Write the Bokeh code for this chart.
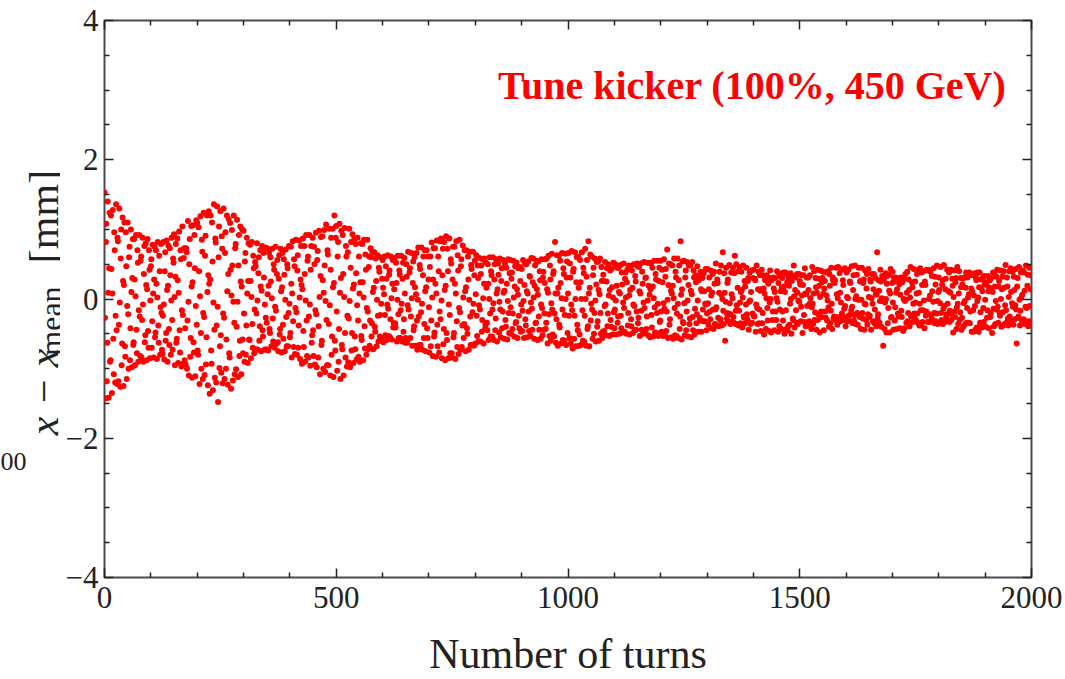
import math
from bokeh.plotting import figure
from bokeh.layouts import row
from bokeh.models import ColumnDataSource, Range1d, LinearAxis, FixedTicker, Label
from bokeh.embed import file_html
from bokeh.resources import INLINE

# x - x_mean per turn, in units of 0.01 mm (turns 0-249, 250-499, ...)
dev_t0000 = [153,-27,-143,82,108,-118,-63,140,9,-142,44,124,-90,-88,120,43,-135,8,128,-57,-108,96,70,-120,-24,
             136,-45,-122,88,83,-118,-37,130,-5,-126,58,100,-95,-64,117,26,-125,20,110,-68,-83,96,47,-115,-10,
             110,-22,-100,60,75,-88,-42,100,10,-98,30,86,-66,-62,86,28,-95,4,92,-44,-78,70,52,-90,-16,
             92,-25,-82,55,61,-84,-30,88,-8,-90,36,76,-62,-52,80,20,-88,14,86,-46,-70,70,42,-85,-2,
             47,57,-70,-32,78,8,-84,28,75,-55,-48,70,22,-86,2,82,-38,-63,62,40,-80,-12,79,-20,-73,
             -79,-24,82,-8,-87,40,67,-60,-49,84,13,-90,19,77,-43,-66,73,34,-80,-2,88,-30,-73,58,52,
             93,3,-95,32,79,-63,-57,87,27,-92,9,97,-45,-77,70,57,-97,-16,104,-23,-93,59,73,-88,-42,
             -94,73,67,-100,-31,112,-4,-110,50,86,-83,-56,105,18,-113,24,106,-62,-77,92,44,-111,-10,113,-37,
             109,-74,-80,103,40,-122,4,119,-49,-100,85,68,-115,-20,124,-26,-109,62,91,-94,-55,120,10,-124,34,
             126,22,-136,28,120,-74,-93,110,54,-131,-5,136,-44,-113,87,81,-120,-38,133,-11,-148,60,104,-99,-68]
dev_t0250 = [126,-52,-106,90,72,-121,-21,130,-27,-115,66,96,-100,-58,120,11,-123,36,115,-78,-84,109,42,-129,5,
             99,48,-117,-4,120,-34,-108,73,79,-101,-40,114,-4,-112,48,92,-82,-60,104,25,-108,18,100,-58,-78,
             98,-21,-90,54,66,-80,-38,88,8,-92,26,80,-58,-59,78,26,-85,3,82,-36,-70,62,44,-78,-15,
             53,47,-72,-21,80,-2,-73,37,60,-60,-39,70,18,-75,12,76,-45,-54,66,31,-73,-8,74,-27,-72,
             -34,73,7,-74,19,66,-43,-49,60,25,-68,1,72,-28,-61,50,42,-70,-11,75,-17,-64,36,56,-62,
             -75,29,63,-51,-43,72,11,-77,17,66,-37,-57,57,35,-75,-1,71,-26,-68,50,44,-68,-20,76,-7,
             -55,-49,75,22,-84,8,83,-32,-69,57,47,-79,-13,85,-19,-80,41,63,-70,-38,84,2,-86,28,76,
             20,-93,14,87,-46,-69,76,36,-90,-2,92,-31,-82,55,61,-84,-25,92,-8,-96,42,76,-63,-52,88,
             -45,-82,75,50,-94,-16,95,-22,-98,56,69,-84,-39,98,3,-108,33,89,-66,-60,90,27,-100,9,99,
             48,-105,-3,107,-30,-95,70,64,-95,-36,101,-9,-110,42,88,-80,-54,101,17,-112,23,120,-60,-74,88]
dev_t0500 = [105,-18,-103,61,82,-90,-43,108,9,-115,30,98,-66,-72,92,36,-110,3,102,-49,-84,76,61,-97,-24,
             67,-91,-28,101,-3,-98,45,82,-74,-49,93,15,-92,21,86,-54,-72,79,37,-87,-9,88,-31,-83,61,
             8,-90,24,80,-53,-59,79,24,-88,2,85,-39,-71,64,42,-80,-13,85,-18,-72,46,61,-67,-31,73,
             60,-54,-35,68,10,-72,16,67,-40,-47,58,26,-68,-1,63,-24,-61,45,39,-54,-23,60,-7,-57,29,
             56,16,-62,7,61,-23,-52,47,29,-59,-8,63,-14,-53,35,41,-55,-29,61,1,-58,22,56,-41,-35,
             14,59,-35,-41,52,23,-61,-1,62,-22,-56,41,35,-56,-16,62,-7,-61,29,52,-47,-29,59,8,-63,
             -56,50,32,-63,-9,68,-15,-57,38,44,-56,-25,66,1,-67,23,54,-45,-39,60,17,-67,7,66,-31,
             -73,-1,74,-25,-66,49,43,-66,-19,74,-7,-73,34,61,-56,-36,70,11,-75,17,70,-42,-56,61,28,
             -12,-77,46,61,-68,-31,81,2,-82,28,73,-54,-48,73,22,-83,8,84,-37,-68,61,40,-77,-18,83,
             -29,87,-2,-85,34,72,-65,-43,82,13,-88,19,90,-49,-59,72,40,-85,-8,87,-23,-78,57,51,-78]
dev_t0750 = [-84,28,75,-55,-49,75,22,-86,8,83,-32,-69,63,41,-79,-13,85,-19,-73,47,57,-69,-38,77,2,
             -56,-36,70,11,-75,17,70,-42,-50,61,28,-73,-1,68,-25,-66,49,43,-66,-19,68,-7,-67,34,55,
             -64,7,63,-24,-53,48,30,-61,-9,59,-15,-61,36,48,-47,-30,57,1,-64,22,58,-43,-37,52,16,
             -34,-45,50,22,-59,0,60,-21,-54,40,34,-54,-15,60,-6,-59,28,50,-45,-28,57,8,-61,14,51,
             35,-48,-4,58,-15,-55,26,44,-42,-18,56,9,-57,12,51,-30,-40,45,22,-58,-3,57,-20,-49,37,
             56,-12,-50,29,38,-43,-21,55,2,-54,18,47,-35,-33,52,14,-56,6,44,-24,-42,46,26,-47,-8,
             43,-46,-17,56,-3,-56,20,51,-29,-38,50,11,-55,8,54,-18,-46,33,32,-53,-5,59,-14,-44,24,
             58,2,-57,19,48,-35,-34,55,14,-59,6,54,-25,-44,40,27,-57,-8,57,-13,-52,31,39,-44,-21,
             23,57,-43,-34,58,14,-64,9,62,-22,-53,48,28,-60,-6,65,-15,-51,36,40,-54,-21,82,8,-63,
             -29,63,8,-67,16,62,-37,-41,55,23,-64,1,66,-15,-59,44,36,-60,-23,65,0,-66,31,54,-49]
dev_t1000 = [8,66,-24,-56,51,31,-64,-8,69,-16,-71,39,43,-57,-24,67,0,-68,24,60,-37,-45,61,16,-67,
             -51,56,24,-66,0,67,-16,-60,45,37,-61,-24,72,0,-67,32,56,-43,-39,83,8,-68,16,64,-31,
             -7,61,-15,-57,34,45,-50,-20,58,-2,-61,21,53,-40,-32,54,13,-60,7,58,-20,-50,46,26,-56,
             -47,35,26,-46,-10,53,-8,-52,25,44,-39,-21,50,5,-53,13,41,-30,-40,43,17,-51,2,52,-19,
             -42,-15,50,-2,-51,19,45,-34,-25,45,10,-50,8,49,-24,-42,38,21,-48,-5,51,-13,-47,29,38,
             2,-50,24,42,-38,-20,48,5,-51,13,47,-29,-39,41,16,-49,-8,50,-10,-45,33,25,-44,-18,51,
             47,-35,-27,46,11,-53,8,51,-17,-44,39,22,-50,-5,53,-13,-49,30,31,-43,-25,52,-2,-52,19,
             52,6,-55,14,51,-23,-41,45,18,-54,1,55,-12,-48,36,28,-49,-20,55,-7,-53,26,45,-33,-31,
             55,-18,-47,42,24,-53,-6,57,-14,-52,32,43,-46,-18,71,-1,-56,20,51,-37,-29,50,12,-55,8,
             48,19,-57,1,58,-13,-52,39,31,-53,-21,58,-7,-56,27,48,-43,-25,83,6,-58,14,54,-33,-35]
dev_t1250 = [55,-6,-52,31,41,-45,-18,53,-2,-54,20,48,-36,-28,48,12,-55,7,53,-26,-45,41,31,-51,-14,
             34,24,-35,-22,47,-2,-47,27,32,-27,-31,39,14,-47,11,30,-15,-32,37,11,-32,-7,43,-8,-45,
             -21,43,-6,-37,14,31,-18,-29,41,5,-42,9,36,-15,-43,39,22,-36,-15,51,-12,-38,28,23,-27,
             -39,9,39,-30,-29,48,6,-38,0,67,-17,-36,37,9,-60,-4,45,-20,-28,23,28,-32,-21,49,-6,
             -36,-22,38,7,-33,1,45,-26,-34,37,62,-36,-17,50,-9,-36,16,40,-38,-17,46,-5,-35,10,39,
             13,-41,2,48,-25,-27,26,18,-35,-8,45,-22,-29,26,30,-44,-4,38,-2,-36,10,41,-34,-21,30,
             42,-24,-25,29,27,-47,-8,48,-13,-36,14,39,-35,-15,34,12,-46,14,42,-35,-20,34,15,-51,8,
             28,27,-43,1,34,-13,-31,22,30,-46,-5,41,0,-48,27,30,-30,-18,31,15,-45,10,30,-18,-30,
             1,40,-4,-47,23,37,-39,-15,32,11,-43,16,30,-18,-31,38,18,-50,10,38,-16,-43,36,24,-45,
             -39,31,19,-37,-7,37,0,-50,26,33,-28,-30,48,4,-41,13,31,-16,-34,36,9,-36,-2,36,-4]
dev_t1500 = [26,21,-32,-11,34,5,-49,20,34,-23,-33,44,8,-39,7,31,-10,-35,31,13,-32,-7,34,1,-39,
             -43,-12,46,-7,-36,8,40,-30,-19,30,17,-44,9,42,-30,-22,29,19,-48,3,41,-18,-26,24,30,
             39,8,-45,15,26,-18,-27,38,5,-31,-2,40,-12,-40,36,19,-35,-17,45,-7,-43,31,27,-28,-25,
             23,27,-26,-31,45,7,-37,1,46,-26,-28,37,9,-32,-5,42,-21,-30,27,20,-26,-14,44,-10,-39,
             -31,38,3,-32,1,42,-24,-23,25,23,-32,-16,47,-11,-35,13,34,-31,-23,48,0,-36,4,35,-20,
             -37,-1,45,-23,-26,25,26,-43,-1,45,-20,-28,23,28,-44,-7,41,-8,-30,15,36,-37,-22,43,3,
             -26,-24,28,25,-44,1,36,-7,-32,14,36,-35,-15,30,7,-39,6,67,-28,-22,27,12,-34,-3,42,
             25,-40,1,33,-3,-67,27,31,-43,-5,37,0,-48,22,33,-35,-13,35,12,-48,8,43,-27,-26,23,
             39,-5,-44,31,25,-31,-12,31,9,-43,14,26,-21,-25,29,21,-42,6,31,-17,-26,24,25,-46,0,
             29,-42,-3,36,-1,-34,9,39,-32,-20,28,13,-39,2,46,-24,-25,24,17,-33,-7,43,-21,-27,25]
dev_t1750 = [-5,-31,8,36,-21,-34,42,9,-38,-7,44,-16,-38,38,20,-33,-16,40,-2,-42,25,20,-24,-18,42,
             41,-33,-21,42,0,-33,5,39,-31,-24,33,11,-30,-4,44,-20,-35,32,21,-32,-21,48,-3,-36,10,
             31,13,-35,-6,46,-20,-30,20,27,-36,-14,49,-10,-33,14,29,-26,-22,42,-7,-32,11,38,-33,-17,
             9,42,-30,-22,29,19,-48,3,41,-18,-26,24,30,-43,-12,46,-7,-36,8,40,-30,-19,30,17,-44,
             -27,21,29,-40,-6,31,-3,-36,16,38,-34,-13,31,2,-34,7,38,-35,-18,34,15,-47,11,35,-16,
             -47,5,37,-10,-44,31,27,-41,-3,38,2,-47,17,38,-34,-19,28,16,-41,11,30,-13,-33,33,22,
             -1,-40,24,20,-27,-16,33,11,-42,16,27,-26,-20,30,15,-49,10,38,-14,-39,38,18,-36,-3,32,
             -15,42,-11,-34,18,26,-20,-24,41,0,-40,14,32,-19,-38,40,16,-36,-9,49,-16,-34,31,18,-28,
             -38,3,40,-25,-32,44,10,-36,-6,39,-11,-37,32,13,-29,-9,43,-15,-64,18,30,-27,-25,46,-1,
             -38,-17,38,2,-31,6,41,-30,-29,38,12,-36,-11,48,-13,-32,19,35,-39,-11,45,-10,-32,14,34]

TITLE = "Tune kicker (100%, 450 GeV)"
X_LABEL = "Number of turns"
Y_LABEL_MAIN = "x \u2212 x"
Y_LABEL_SUB = "mean"
Y_LABEL_UNIT = "[mm]"
EDGE_FRAGMENT = "00"
x_ticks = [0, 500, 1000, 1500, 2000]
x_minor_ticks = [100, 200, 300, 400, 600, 700, 800, 900, 1100, 1200, 1300, 1400,
                 1600, 1700, 1800, 1900]
y_ticks = [-4, -2, 0, 2, 4]
y_minor_ticks = [-3.5, -3, -2.5, -1.5, -1, -0.5, 0.5, 1, 1.5, 2.5, 3, 3.5]
y_tick_labels = {-4: "\u22124", -2: "\u22122", 0: "0", 2: "2", 4: "4"}

dx_hundredths = (dev_t0000 + dev_t0250 + dev_t0500 + dev_t0750 +
                 dev_t1000 + dev_t1250 + dev_t1500 + dev_t1750)
dx_mm = [v / 100.0 for v in dx_hundredths]
turns = list(range(len(dx_mm)))

src = ColumnDataSource(data=dict(turn=turns, dx=dx_mm))

SERIF = "Liberation Serif"
INK = "#222222"
FRAME = "#4a4a4a"
TICK_FS = "31px"

STRIP_W = 60
MAIN_W = 1065 - STRIP_W
H = 679
FRAME_TOP = 20
FRAME_BOTTOM = 580

# ---- left strip holding the rotated y-axis title ----
# (the row aligns this strip's frame with the main frame, so its y range is
#  expressed in page pixels from the top, between the main frame's edges)
strip = figure(width=STRIP_W, height=H, output_backend="svg", toolbar_location=None,
               x_range=Range1d(0, STRIP_W), y_range=Range1d(FRAME_BOTTOM, FRAME_TOP),
               x_axis_type=None, y_axis_type=None,
               min_border_left=0, min_border_right=0,
               min_border_top=FRAME_TOP, min_border_bottom=H - FRAME_BOTTOM,
               background_fill_color="white", border_fill_color="white",
               outline_line_color=None)
strip.add_layout(Label(x=43, y=437, text=Y_LABEL_MAIN, text_font=SERIF,
                       text_font_size="42px", text_font_style="italic", text_color=INK,
                       angle=math.pi / 2, text_align="left", text_baseline="alphabetic"))
strip.add_layout(Label(x=50, y=357, text=Y_LABEL_SUB, text_font=SERIF,
                       text_font_size="32px", text_color=INK,
                       angle=math.pi / 2, text_align="left", text_baseline="alphabetic"))
strip.add_layout(Label(x=43, y=264, text=Y_LABEL_UNIT, text_font=SERIF,
                       text_font_size="42px", text_color=INK,
                       angle=math.pi / 2, text_align="left", text_baseline="alphabetic"))
strip.add_layout(Label(x=0, y=463, text=EDGE_FRAGMENT, text_font=SERIF,
                       text_font_size="26px", text_color=INK,
                       text_align="left", text_baseline="alphabetic"))

# ---- main plot ----
p = figure(width=MAIN_W, height=H, output_backend="svg", toolbar_location=None,
           x_range=Range1d(0, 2000), y_range=Range1d(-4, 4),
           x_axis_type=None, y_axis_type=None,
           min_border_left=104 - STRIP_W, min_border_right=34,
           min_border_top=FRAME_TOP, min_border_bottom=H - FRAME_BOTTOM,
           background_fill_color="white", border_fill_color="white",
           outline_line_color=FRAME, outline_line_width=2)


def make_axis(ticks, minor, labels, show):
    ax = LinearAxis(ticker=FixedTicker(ticks=ticks, minor_ticks=minor),
                    axis_line_color=None,
                    major_tick_in=9, major_tick_out=0,
                    minor_tick_in=5, minor_tick_out=0,
                    major_tick_line_color=INK, major_tick_line_width=1.5,
                    minor_tick_line_color=INK, minor_tick_line_width=1.5,
                    major_label_text_font=SERIF,
                    major_label_text_font_size=TICK_FS,
                    major_label_text_color=INK,
                    major_label_standoff=6)
    if labels:
        ax.major_label_overrides = labels
    if not show:
        ax.major_label_overrides = {t: "" for t in ticks}
        ax.major_label_text_font_size = "1px"
        ax.major_label_standoff = 0
    return ax


xb = make_axis(x_ticks, x_minor_ticks, {t: str(t) for t in x_ticks}, True)
xb.axis_label = X_LABEL
xb.axis_label_text_font = SERIF
xb.axis_label_text_font_size = "42px"
xb.axis_label_text_font_style = "normal"
xb.axis_label_text_color = INK
xb.major_label_standoff = 9
xb.axis_label_standoff = 20
p.add_layout(xb, "below")
p.add_layout(make_axis(x_ticks, x_minor_ticks, None, False), "above")
p.add_layout(make_axis(y_ticks, y_minor_ticks, y_tick_labels, True), "left")
p.add_layout(make_axis(y_ticks, y_minor_ticks, None, False), "right")

p.scatter(x="turn", y="dx", source=src, size=6, marker="circle",
          fill_color="#ff0000", line_color=None)

# title inside plot (upper right)
p.add_layout(Label(x=1946, y=3.07, text=TITLE, text_font=SERIF, text_font_size="40px",
                   text_font_style="bold", text_color="#ff0000",
                   text_align="right", text_baseline="alphabetic"))

layout = row(strip, p, spacing=0)
open("out.html", "w").write(file_html(layout, INLINE))
